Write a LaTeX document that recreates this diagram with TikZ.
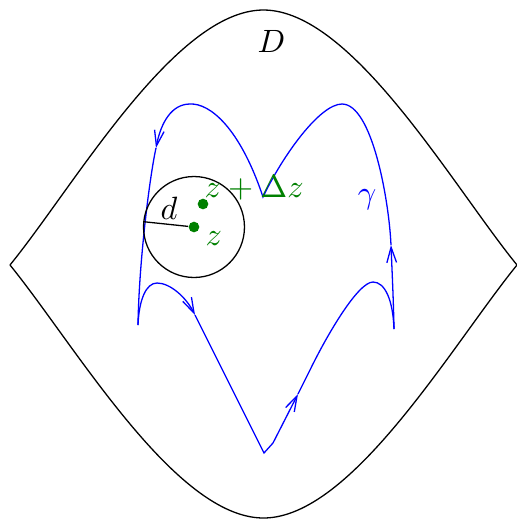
\documentclass[tikz,border=0pt]{standalone}
\usetikzlibrary{arrows.meta}
\definecolor{dgreen}{RGB}{0,128,0}
\begin{document}
\begin{tikzpicture}[x=0.31pt,y=-0.31pt,
  border/.style={black, line width=0.4pt},
  curve/.style={blue, line width=0.4pt},
  arr/.style={curve, -{Straight Barb[length=4.8pt,width=3pt]}},
  dot/.style={circle, fill=dgreen, inner sep=0pt, minimum size=3.3pt},
  lbl/.style={inner sep=0pt, anchor=base west}]
\useasboundingbox (0,0) rectangle (517,520);
% domain D
\coordinate (Lc) at (10,265);
\coordinate (Top) at (263.5,10);
\coordinate (Rc) at (517,265);
\coordinate (Bot) at (263.5,518);
\draw[border] (Lc) .. controls (75,185) and (175,10) .. (Top)
  .. controls (352,10) and (452,185) .. (Rc)
  .. controls (452,345) and (352,518) .. (Bot)
  .. controls (175,518) and (75,345) .. (Lc);
% curve gamma
\coordinate (C1) at (138,325);
\coordinate (H1) at (157,283);
\coordinate (L1) at (195,315);
\coordinate (B) at (264,453);
\coordinate (B2) at (273,443);
\coordinate (T3) at (298,394);
\coordinate (S3) at (310,370);
\coordinate (H2) at (373,282);
\coordinate (C2) at (394,329);
\coordinate (T4) at (391,245);
\coordinate (P2) at (342,104);
\coordinate (V) at (263,197);
\coordinate (P1) at (190,104);
\coordinate (A1) at (156,148);
\draw[arr] (C1) .. controls (139,300) and (146,283) .. (H1)
  .. controls (170,283) and (186,297) .. (L1);
\draw[curve] (L1) -- (B) -- (B2);
\draw[arr] (B2) -- (T3);
\draw[curve] (T3) -- (S3) .. controls (327,335) and (358,282) .. (H2)
  .. controls (385,282) and (393,300) .. (C2);
\draw[arr] (C2) .. controls (393.5,300) and (392,270) .. (T4);
\draw[curve] (T4) .. controls (389,200) and (372,104) .. (P2)
  .. controls (320,104) and (283,155) .. (V)
  .. controls (240,128) and (210,103) .. (P1);
\draw[arr] (P1) .. controls (172,104) and (161,122) .. (A1);
\draw[curve] (A1) .. controls (150,175) and (139,260) .. (C1);
% disk
\node[draw, circle, minimum size=31.3pt, inner sep=0pt] (disk) at (194,227) {};
\node[dot] (zc) at (194,227) {};
\node[dot] (zd) at (203,204) {};
\draw (disk.174) -- (zc);
% labels
\node[lbl] (Dl) at (257,52) {$D$};
\node[inner sep=0pt, text=blue] (gl) at (367,200) {$\gamma$};
\node[lbl] (dl) at (160,219) {$d$};
\node[lbl, text=dgreen] (zl) at (205,245) {$z$};
\node[lbl, text=dgreen] (zdl) at (204,197) {$z+\Delta z$};
\end{tikzpicture}
\end{document}
